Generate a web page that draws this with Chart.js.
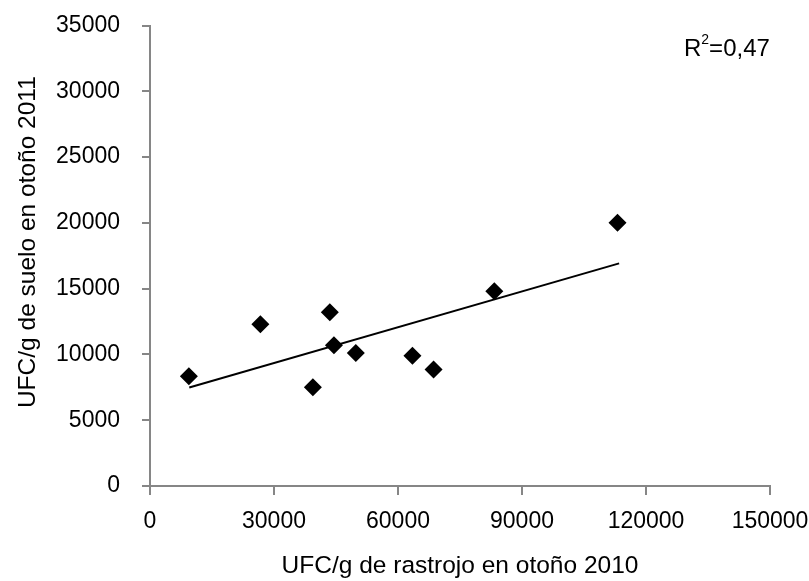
<!DOCTYPE html>
<html>
<head>
<meta charset="utf-8">
<script src="https://cdn.jsdelivr.net/npm/chart.js@4.4.0/dist/chart.umd.min.js"></script>
<style>
  html, body { margin: 0; padding: 0; background: #fff; }
  #wrap { width: 809px; height: 581px; }
</style>
</head>
<body>
<div id="wrap"><canvas id="myChart" width="809" height="581"></canvas></div>
<script>
// UFC/g rastrojo otoño 2010 (x) vs UFC/g suelo otoño 2011 (y)
const rastrojo = [9400, 26700, 39400, 43500, 44500, 49800, 63500, 68600, 83300, 113100];
const suelo = [8350, 12300, 7500, 13200, 10700, 10100, 9900, 8850, 14800, 20000];
// linea de tendencia
const trendX = [9500, 113500];
const trendY = [7490, 16920];
const r2Text = "0,47";

const fontFam = "'Liberation Sans', Arial, sans-serif";
const axisGray = '#868686';

let puntos = [];
for (i in rastrojo) {
    puntos.push({ x: rastrojo[i], y: suelo[i] });
}
let tendencia = [];
for (i in trendX) {
    tendencia.push({ x: trendX[i], y: trendY[i] });
}

const r2Plugin = {
    id: 'r2',
    afterDraw(chart) {
        const ctx = chart.ctx;
        const a = chart.chartArea;
        ctx.save();
        ctx.fillStyle = '#000';
        ctx.textBaseline = 'alphabetic';
        ctx.font = '24px ' + fontFam;
        let x = a.right - 86;
        let y = a.top + 30.5;
        ctx.fillText('R', x, y);
        x += ctx.measureText('R').width;
        ctx.font = '14px ' + fontFam;
        ctx.fillText('2', x, y - 12);
        x += ctx.measureText('2').width;
        ctx.font = '24px ' + fontFam;
        ctx.fillText('=' + r2Text, x, y);
        ctx.restore();
    }
};

var ctx = document.getElementById('myChart').getContext('2d');
var myChart = new Chart(ctx, {
    type: 'scatter',
    data: {
        datasets: [{
            label: 'UFC',
            data: puntos,
            backgroundColor: '#000',
            borderWidth: 0,
            pointStyle: 'rectRot',
            pointRadius: 9,
            pointHoverRadius: 9
        }, {
            type: 'line',
            label: 'Tendencia',
            data: tendencia,
            borderColor: '#000',
            borderWidth: 2,
            pointRadius: 0,
            fill: false
        }]
    },
    plugins: [r2Plugin],
    options: {
        responsive: false,
        animation: false,
        layout: { padding: { top: 25.5, right: 39, left: 0, bottom: 0 } },
        plugins: {
            legend: { display: false },
            tooltip: { enabled: false }
        },
        scales: {
            x: {
                type: 'linear',
                min: 0,
                max: 150000,
                border: { color: axisGray, width: 2 },
                grid: { drawOnChartArea: false, color: axisGray, tickLength: 9, lineWidth: 2 },
                ticks: { stepSize: 30000, color: '#000', font: { family: fontFam, size: 23 }, padding: 13, maxRotation: 0,
                    callback: function (v) { return String(v); } },
                title: { display: true, text: 'UFC/g de rastrojo en otoño 2010', color: '#000', font: { family: fontFam, size: 24.5 }, padding: { top: 1, bottom: 0 } },
                afterFit: function (scale) {
                    scale.height = 95;
                    scale.paddingLeft = 0;
                    scale.paddingRight = 0;
                }
            },
            y: {
                min: 0,
                max: 35000,
                border: { color: axisGray, width: 2 },
                grid: { drawOnChartArea: false, color: axisGray, tickLength: 8, lineWidth: 2 },
                ticks: { stepSize: 5000, color: '#000', font: { family: fontFam, size: 23 }, padding: 22,
                    callback: function (v) { return String(v); } },
                title: { display: true, text: '\u00A0\u00A0\u00A0\u00A0UFC/g de suelo en otoño 2011', color: '#000', font: { family: fontFam, size: 24.5 }, padding: { top: 14, bottom: 0 } },
                afterFit: function (scale) {
                    scale.width = 150;
                    scale.paddingTop = 0;
                    scale.paddingBottom = 0;
                }
            }
        }
    }
});
</script>
</body>
</html>
